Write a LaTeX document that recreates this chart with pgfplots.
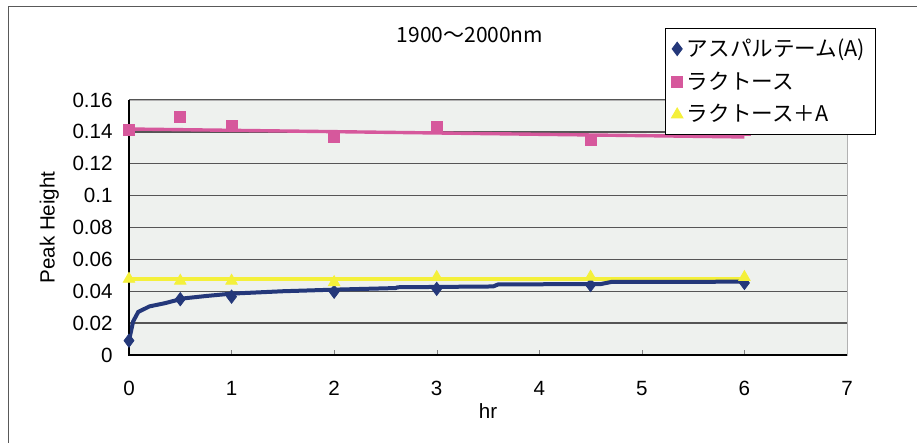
\documentclass[border=0pt]{standalone}
\usepackage{fontspec}
\setmainfont{Liberation Sans}
\newfontfamily\jp{Noto Sans CJK JP}
\usepackage{pgfplots}
\pgfplotsset{compat=1.18}
\definecolor{navy}{HTML}{24387A}
\definecolor{pinkm}{HTML}{D6589C}
\definecolor{yel}{HTML}{F4F03A}
\definecolor{bgc}{HTML}{EEF1EE}
\definecolor{gridc}{HTML}{555555}
\begin{document}
\begin{tikzpicture}[x=0.5pt,y=0.5pt]
\useasboundingbox (0,0) rectangle (917,443);
\draw[gray!70!black, line width=0.5pt] (8,0) -- (8,436) -- (917,436);
\node[font=\jp\fontsize{10.5}{12}\selectfont] at (470,408) {1900～2000nm};
\begin{axis}[
  at={(64.5pt,44pt)}, anchor=south west,
  scale only axis, width=359pt, height=127.5pt,
  xmin=0, xmax=7, ymin=0, ymax=0.16,
  xtick={0,1,...,7}, ytick={0,0.02,...,0.16},
  xtick pos=bottom, ytick pos=left,
  xtick align=inside, major tick length=2.5pt,
  ytick style={draw=none},
  ymajorgrids, major grid style={gridc, line width=0.7pt},
  axis line style={gray!60},
  axis background/.style={fill=bgc},
  scaled y ticks=false,
  /pgf/number format/assume math mode=true,
  yticklabel style={/pgf/number format/fixed, /pgf/number format/precision=2, inner sep=0pt, xshift=-8pt},
  xticklabel style={inner sep=0pt, yshift=-13pt, anchor=north},
  tick label style={font=\fontsize{10.3}{12}\selectfont},
  ylabel={Peak Height},
  ylabel style={at={(rel axis cs:-0.111,0.5)}, anchor=center, font=\fontsize{10.3}{12}\selectfont},
  xlabel={hr},
  xlabel style={at={(rel axis cs:0.5,-0.22)}, anchor=center, font=\fontsize{10.3}{12}\selectfont},
  clip=false,
  legend style={at={(rel axis cs:0.7465,1.282)}, anchor=north west, draw=black, fill=white,
    font=\jp\fontsize{10.8}{12}\selectfont, row sep=2.2pt, inner xsep=3pt, inner ysep=3pt,
    line width=0.5pt},
  legend cell align=left,
]
% trend lines
\addplot[yel, line width=1.7pt, forget plot] coordinates {(0,0.0476) (6,0.0476)};
\addplot[pinkm, line width=1.7pt, forget plot] coordinates {(0,0.1418) (6,0.1368)};
\addplot[navy, line width=2pt, forget plot] coordinates {
 (0,0.009) (0.04,0.021) (0.09,0.027) (0.2,0.0305) (0.35,0.0325) (0.53,0.0355)
 (0.75,0.037) (1,0.0385) (1.5,0.0400) (2,0.0410) (2.6,0.0420) (2.62,0.0425)
 (3.55,0.0430) (3.6,0.0443) (4.6,0.0445) (4.7,0.0458) (6,0.0460)};
% data
\addplot[only marks, mark=diamond*, mark size=3.3pt, color=navy, mark options={fill=navy}]
 coordinates {(0,0.009) (0.5,0.035) (1,0.0366) (2,0.0397) (3,0.0415) (4.5,0.0439) (6,0.0452)};
\addlegendentry{アスパルテーム(A)}
\addplot[only marks, mark=square*, mark size=2.8pt, color=pinkm, mark options={fill=pinkm}]
 coordinates {(0,0.1410) (0.5,0.1495) (1,0.1437) (2,0.1366) (3,0.1429) (4.5,0.1349) (6,0.1416)};
\addlegendentry{ラクトース}
\addplot[only marks, mark=triangle*, mark size=3.3pt, color=yel, mark options={fill=yel}]
 coordinates {(0,0.0477) (0.5,0.0465) (1,0.0465) (2,0.0456) (3,0.0488) (4.5,0.0490) (6,0.0488)};
\addlegendentry{ラクトース＋A}
\draw[black, line width=0.6pt] (rel axis cs:0,1) -- (rel axis cs:0,0) -- (rel axis cs:1,0);
\end{axis}
\end{tikzpicture}
\end{document}
